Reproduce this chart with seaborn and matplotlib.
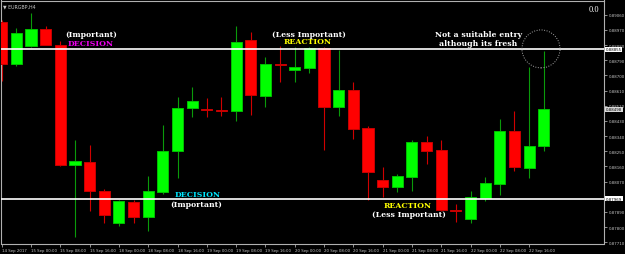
import matplotlib
matplotlib.use("Agg")
import matplotlib.pyplot as plt
import matplotlib.transforms as mtransforms
from matplotlib.patches import Ellipse
import numpy as np
import pandas as pd
import seaborn as sns

# ---------------- data (EURGBP H4) ----------------
opens = [0.89017, 0.88768, 0.88874, 0.88975, 0.88880, 0.88168, 0.88186, 0.88014,
         0.87824, 0.87949, 0.87860, 0.88008, 0.88251, 0.88507, 0.88501, 0.88495,
         0.88489, 0.88910, 0.88578, 0.88765, 0.88732, 0.88744, 0.88860, 0.88513,
         0.88613, 0.88388, 0.88079, 0.88038, 0.88097, 0.88305, 0.88257, 0.87901,
         0.87848, 0.87973, 0.88056, 0.88370, 0.88151, 0.88281]
highs = [0.89029, 0.88981, 0.89070, 0.88993, 0.88904, 0.88317, 0.88287, 0.88026,
         0.87961, 0.87961, 0.88103, 0.88406, 0.88572, 0.88631, 0.88566, 0.88572,
         0.88993, 0.88957, 0.88809, 0.88874, 0.88868, 0.88866, 0.88866, 0.88851,
         0.88661, 0.88400, 0.88157, 0.88115, 0.88317, 0.88340, 0.88317, 0.87937,
         0.88014, 0.88097, 0.88441, 0.88489, 0.88750, 0.88845]
lows = [0.88667, 0.88756, 0.88868, 0.88878, 0.88162, 0.87741, 0.87896, 0.87824,
        0.87807, 0.87824, 0.87777, 0.87996, 0.88091, 0.88453, 0.88453, 0.88459,
        0.88429, 0.88465, 0.88513, 0.88661, 0.88661, 0.88714, 0.88257, 0.88459,
        0.88323, 0.87961, 0.87979, 0.88008, 0.88014, 0.88174, 0.87896, 0.87830,
        0.87824, 0.87955, 0.87990, 0.88133, 0.88091, 0.88251]
closes = [0.88768, 0.88951, 0.88975, 0.88880, 0.88168, 0.88192, 0.88014, 0.87872,
          0.87955, 0.87860, 0.88014, 0.88251, 0.88507, 0.88548, 0.88495, 0.88489,
          0.88898, 0.88584, 0.88768, 0.88759, 0.88750, 0.88860, 0.88513, 0.88613,
          0.88382, 0.88127, 0.88038, 0.88103, 0.88305, 0.88251, 0.87901, 0.87896,
          0.87979, 0.88062, 0.88370, 0.88157, 0.88281, 0.88498]

x_labels = ["14 Sep 2017", "15 Sep 00:00", "15 Sep 08:00", "15 Sep 16:00",
            "18 Sep 00:00", "18 Sep 08:00", "18 Sep 16:00", "19 Sep 00:00",
            "19 Sep 08:00", "19 Sep 16:00", "20 Sep 00:00", "20 Sep 08:00",
            "20 Sep 16:00", "21 Sep 00:00", "21 Sep 08:00", "21 Sep 16:00",
            "22 Sep 00:00", "22 Sep 08:00", "22 Sep 16:00"]
price_ticks = [0.89060, 0.88970, 0.88880, 0.88790, 0.88700, 0.88610, 0.88520,
               0.88430, 0.88340, 0.88250, 0.88160, 0.88070, 0.87980, 0.87890,
               0.87800, 0.87710]
hidden_tick_labels = [0.87980]  # covered by the level box in the terminal
level_high = 0.88855
level_low = 0.87969
last_price = 0.88498

# ---------------- style ----------------
sns.set_style("dark", {"axes.facecolor": "black", "figure.facecolor": "black",
                       "axes.edgecolor": "#B0B0B0", "grid.color": "black"})

df = pd.DataFrame({"open": opens, "high": highs, "low": lows, "close": closes})
df["idx"] = np.arange(len(df))
df["bull"] = df["close"] >= df["open"]
df["bottom"] = df[["open", "close"]].min(axis=1)
df["height"] = (df["close"] - df["open"]).abs()

fig = plt.figure(figsize=(6.25, 2.55), dpi=100)
fig.patch.set_facecolor("black")
ax = fig.add_axes([1 / 625, 10.5 / 255, 603 / 625, 243 / 255])
ax.set_facecolor("black")

GREEN, GREEN_EDGE, GREEN_WICK = "#00FF00", "#00C000", "#0A9A0A"
RED, RED_EDGE, RED_WICK = "#FF0000", "#C80000", "#D00000"

wick_colors = [GREEN_WICK if b else RED_WICK for b in df["bull"]]
ax.vlines(df["idx"], df["low"], df["high"], colors=wick_colors, lw=0.8, zorder=2)
body_colors = [GREEN if b else RED for b in df["bull"]]
edge_colors = [GREEN_EDGE if b else RED_EDGE for b in df["bull"]]
ax.bar(df["idx"], df["height"], bottom=df["bottom"], width=0.76,
       color=body_colors, edgecolor=edge_colors, linewidth=0.7, zorder=3)

# horizontal levels
ax.axhline(level_high, color="white", lw=1.2, zorder=4)
ax.axhline(level_low, color="white", lw=1.2, zorder=4)

# axes limits
ax.set_xlim(-0.048, 41.11)
ax.set_ylim(0.87703, 0.89144)

# ticks
ax.yaxis.tick_right()
ax.set_yticks(price_ticks)
ax.set_yticklabels(["" if p in hidden_tick_labels else f"{p:.5f}" for p in price_ticks])
ax.set_xticks(np.arange(0, 37, 2))
ax.set_xticklabels(x_labels, ha="left")
ax.tick_params(axis="y", which="both", right=True, left=False, labelright=True,
               labelleft=False, labelsize=2.8, colors="#C8C8C8", length=2.5,
               width=0.5, pad=1, direction="out")
ax.tick_params(axis="x", which="both", bottom=True, labelsize=2.8,
               colors="#C8C8C8", length=2, width=0.5, pad=1, direction="out")
for lab in ax.get_xticklabels():
    lab.set_horizontalalignment("left")
ax.grid(False)
for s in ax.spines.values():
    s.set_color("#B0B0B0")
    s.set_linewidth(0.8)

# price boxes on right
tr = mtransforms.blended_transform_factory(ax.transAxes, ax.transData)
for val, bg in [(level_high, "white"), (last_price, "#D8D8D8"), (level_low, "white")]:
    ax.text(1.003, val, f"{val:.5f}", transform=tr, fontsize=2.8, color="black",
            ha="left", va="center", clip_on=False, zorder=10,
            bbox=dict(boxstyle="square,pad=0.15", fc=bg, ec="none"))

# header texts
ax.text(0.004, 0.988, "▼ EURGBP,H4", transform=ax.transAxes, fontsize=3.4,
        color="#C8C8C8", ha="left", va="top")
ax.text(0.983, 0.965, "0.0", transform=ax.transAxes, fontsize=6,
        color="white", ha="center", va="center", family="Liberation Serif")

# annotations
fkw = dict(family="DejaVu Serif", fontweight="bold", fontsize=5.6,
           ha="center", va="center", zorder=6)
ax.text(6.13, 0.88948, "(Important)", color="white", **fkw)
ax.text(6.1, 0.88892, "DECISION", color="#F000F0", **fkw)
ax.text(21.0, 0.88948, "(Less Important)", color="white", **fkw)
ax.text(20.9, 0.88904, "REACTION", color="#FFFF00", **fkw)
ax.text(32.55, 0.88948, "Not a suitable entry", color="white", **fkw)
ax.text(32.55, 0.88892, "although its fresh", color="white", **fkw)
ax.text(13.4, 0.87996, "DECISION", color="#00E8FF", **fkw)
ax.text(13.3, 0.87940, "(Important)", color="white", **fkw)
ax.text(27.7, 0.87931, "REACTION", color="#FFFF00", **fkw)
ax.text(27.8, 0.87875, "(Less Important)", color="white", **fkw)

circle = Ellipse((36.81, 0.88857), width=2.6, height=0.00225, fill=False,
                 edgecolor="#A8A8A8", lw=0.7, linestyle=(0, (1, 1.6)), zorder=5)
ax.add_patch(circle)

fig.savefig("out.png", dpi=100, facecolor="black")
